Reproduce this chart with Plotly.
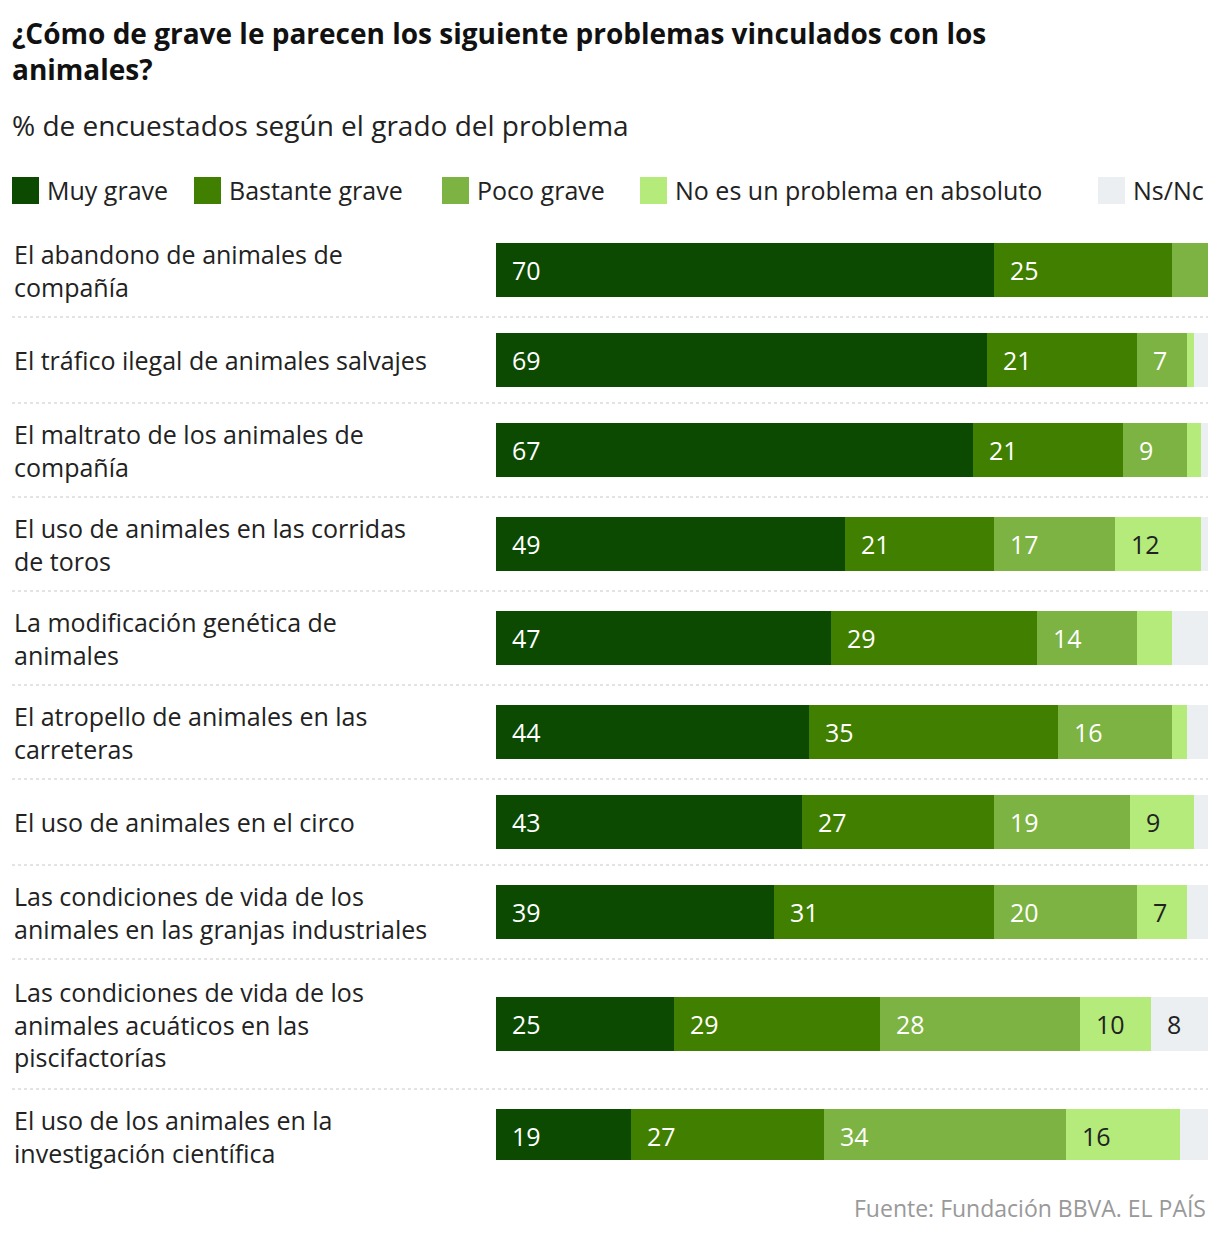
import plotly.graph_objects as go

categories = ["El abandono de animales de<br>compañía",
              "El tráfico ilegal de animales salvajes",
              "El maltrato de los animales de<br>compañía",
              "El uso de animales en las corridas<br>de toros",
              "La modificación genética de<br>animales",
              "El atropello de animales en las<br>carreteras",
              "El uso de animales en el circo",
              "Las condiciones de vida de los<br>animales en las granjas industriales",
              "Las condiciones de vida de los<br>animales acuáticos en las<br>piscifactorías",
              "El uso de los animales en la<br>investigación científica"]
muy_grave = [70, 69, 67, 49, 47, 44, 43, 39, 25, 19]
bastante = [25, 21, 21, 21, 29, 35, 27, 31, 29, 27]
poco = [5, 7, 9, 17, 14, 16, 19, 20, 28, 34]
no_es = [0, 1, 2, 12, 5, 2, 9, 7, 10, 16]
nsnc = [0, 2, 1, 1, 5, 3, 2, 3, 8, 4]
series_names = ["Muy grave", "Bastante grave", "Poco grave", "No es un problema en absoluto", "Ns/Nc"]
colors = ["#0b4a00", "#417f00", "#7cb342", "#b4eb7a", "#ebeff2"]
text_colors = ["white", "white", "white", "#222", "#222"]

FONT = "Open Sans"
OFF = 8
W, H = 1220 - 2 * OFF, 1238 - 2 * OFF
px = lambda x: (x - OFF) / W
py = lambda y: 1 - (y - OFF) / H

row_h = {1: 86, 2: 94, 3: 130}
centers, bounds = [], []
top = 270 - row_h[categories[0].count("<br>") + 1] / 2
for c in categories:
    h = row_h[c.count("<br>") + 1]
    centers.append(top + h / 2)
    top += h
    bounds.append(top)

fig = go.Figure()
for name, vals, col, tc in zip(series_names, [muy_grave, bastante, poco, no_es, nsnc], colors, text_colors):
    fig.add_trace(go.Bar(
        x=vals, y=centers, orientation="h", name=name, marker=dict(color=col, line=dict(width=0)),
        width=54, text=["  " + str(v) if v >= 7 else "" for v in vals], textposition="inside",
        insidetextanchor="start", textfont=dict(color=tc, size=25, family=FONT),
        constraintext="none", hoverinfo="skip", showlegend=False))

for c, y in zip(categories, centers):
    fig.add_annotation(xref="paper", yref="y", x=px(12), y=y, text=c, showarrow=False,
                       xanchor="left", yanchor="middle", align="left",
                       font=dict(size=25, color="#222", family=FONT))
for b in bounds[:-1]:
    fig.add_shape(type="line", xref="paper", yref="y", x0=px(12), x1=px(1208), y0=b, y1=b,
                  line=dict(color="#c8c8c8", width=1, dash="dot"))

# legend
leg_x = [12, 194, 442, 640, 1098]
for name, col, lx in zip(series_names, colors, leg_x):
    fig.add_shape(type="rect", xref="paper", yref="paper", x0=px(lx), x1=px(lx + 27),
                  y0=py(204), y1=py(177), fillcolor=col, line=dict(width=0))
    fig.add_annotation(xref="paper", yref="paper", x=px(lx + 33), y=py(190), text=name,
                       showarrow=False, xanchor="left", yanchor="middle",
                       font=dict(size=25, color="#222", family=FONT))

fig.add_annotation(xref="paper", yref="paper", x=px(10), y=py(12), xanchor="left", yanchor="top",
                   align="left", showarrow=False,
                   text="<b>¿Cómo de grave le parecen los siguiente problemas vinculados con los<br>animales?</b>",
                   font=dict(size=28, color="#111", family=FONT))
fig.add_annotation(xref="paper", yref="paper", x=px(10), y=py(104), xanchor="left", yanchor="top",
                   showarrow=False, text="% de encuestados según el grado del problema",
                   font=dict(size=28, color="#222", family=FONT))
fig.add_annotation(xref="paper", yref="paper", x=px(1208), y=py(1208), xanchor="right", yanchor="middle",
                   showarrow=False, text="Fuente: Fundación BBVA. EL PAÍS",
                   font=dict(size=23, color="#999", family=FONT))

fig.update_layout(
    width=W, height=H, barmode="stack", plot_bgcolor="white", paper_bgcolor="white",
    margin=dict(l=0, r=0, t=0, b=0), bargap=0, showlegend=False,
    xaxis=dict(domain=[px(496), px(1208)], range=[0, 100], visible=False, fixedrange=True),
    yaxis=dict(domain=[py(1160), py(230)], range=[1160, 230], visible=False),
)
fig.write_html("out.html")
